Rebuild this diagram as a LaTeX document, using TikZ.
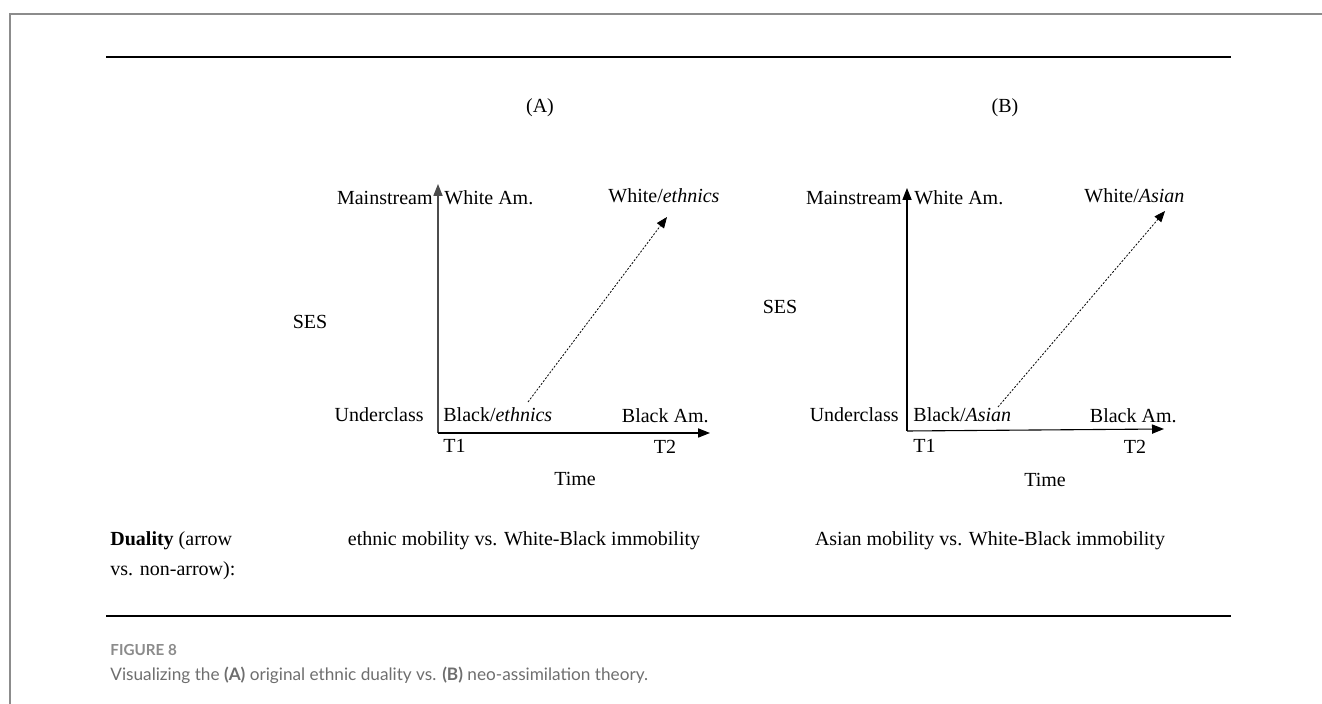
\documentclass[tikz,border=0pt]{standalone}
\usepackage{fontspec}
\setmainfont{Liberation Serif}
\newfontfamily\capfont{Lato}
\usetikzlibrary{arrows.meta,positioning}
\definecolor{framegray}{HTML}{8C8C8C}
\definecolor{capgray}{HTML}{6E6E6E}
\begin{document}
\begin{tikzpicture}[x=0.5pt,y=-0.5pt,every node/.style={font=\fontsize{10}{12}\selectfont,inner sep=0pt},
  axis/.style={line width=.55pt,-{Triangle[length=6pt,width=4.6pt]}},
  move/.style={line width=.4pt,dash pattern=on 1pt off .8pt,-{Triangle[length=5.5pt,width=4.4pt]}},
  rule/.style={line width=1pt},
  captext/.style={font=\capfont\fontsize{8.6}{10}\selectfont,text=capgray}]
\useasboundingbox (0,0) rectangle (1322,704);
% frame and rules
\draw[framegray,line width=.8pt] (10,704)--(10,14)--(1322,14);
\coordinate (r1) at (106,57);\coordinate (r2) at (1231,57);
\coordinate (r3) at (106,616);\coordinate (r4) at (1231,616);
\draw[rule] (r1)--(r2);
\draw[rule] (r3)--(r4);
% panel A
\coordinate (aO) at (438,433);
\coordinate (aY) at (438,184);
\coordinate (aX) at (710,433);
\coordinate (aS) at (528,402);
\coordinate (aE) at (667,217);
\draw[axis,black!70] (aO)--(aY);
\draw[axis] (aO)--(aX);
\draw[move] (aS)--(aE);
\node (lA) at (540,108) {(A)};
\node[anchor=east] (aMain) at (433,198) {Mainstream};
\node[anchor=west] (aWam) at (444,198) {White Am.};
\node[anchor=west] (aWe) at (608,196) {White/\textit{ethnics}};
\node (aSes) at (310,322) {SES};
\node[anchor=east] (aUnd) at (424,415) {Underclass};
\node[anchor=west] (aBe) at (443,415) {Black/\textit{ethnics}};
\node[anchor=east] (aBam) at (709,416) {Black Am.};
\node[anchor=west] (aT1) at (443,446) {T1};
\node (aT2) at (665,447) {T2};
\node (aTime) at (575,479) {Time};
% panel B
\coordinate (bO) at (907,431);
\coordinate (bY) at (907,188);
\coordinate (bX) at (1164,429);
\coordinate (bS) at (998,407);
\coordinate (bE) at (1165,211);
\draw[axis] (bO)--(bY);
\draw[axis] (bO)--(bX);
\draw[move] (bS)--(bE);
\node (lB) at (1005,108) {(B)};
\node[anchor=east] (bMain) at (902,198) {Mainstream};
\node[anchor=west] (bWam) at (914,198) {White Am.};
\node[anchor=west] (bWa) at (1084,196) {White/\textit{Asian}};
\node (bSes) at (780,307) {SES};
\node[anchor=east] (bUnd) at (899,415) {Underclass};
\node[anchor=west] (bBa) at (913,415) {Black/\textit{Asian}};
\node[anchor=east] (bBam) at (1177,416) {Black Am.};
\node[anchor=west] (bT1) at (913,446) {T1};
\node (bT2) at (1135,447) {T2};
\node (bTime) at (1045,480) {Time};
% duality row
\node[anchor=west] (dual) at (110,541) {\textbf{Duality} (arrow};
\node[anchor=west] (dual2) at (110,571) {vs. non-arrow):};
\node (dA) at (524,541) {ethnic mobility vs. White-Black immobility};
\node (dB) at (990,541) {Asian mobility vs. White-Black immobility};
% caption
\node[captext,anchor=west,font=\capfont\bfseries\fontsize{7.6}{9}\selectfont,text=capgray!80] (fig) at (110,650) {FIGURE 8};
\node[captext,anchor=west] (capt) at (110,675) {Visualizing the \textbf{(A)} original ethnic duality vs. \textbf{(B)} neo-assimilation theory.};
\end{tikzpicture}
\end{document}
